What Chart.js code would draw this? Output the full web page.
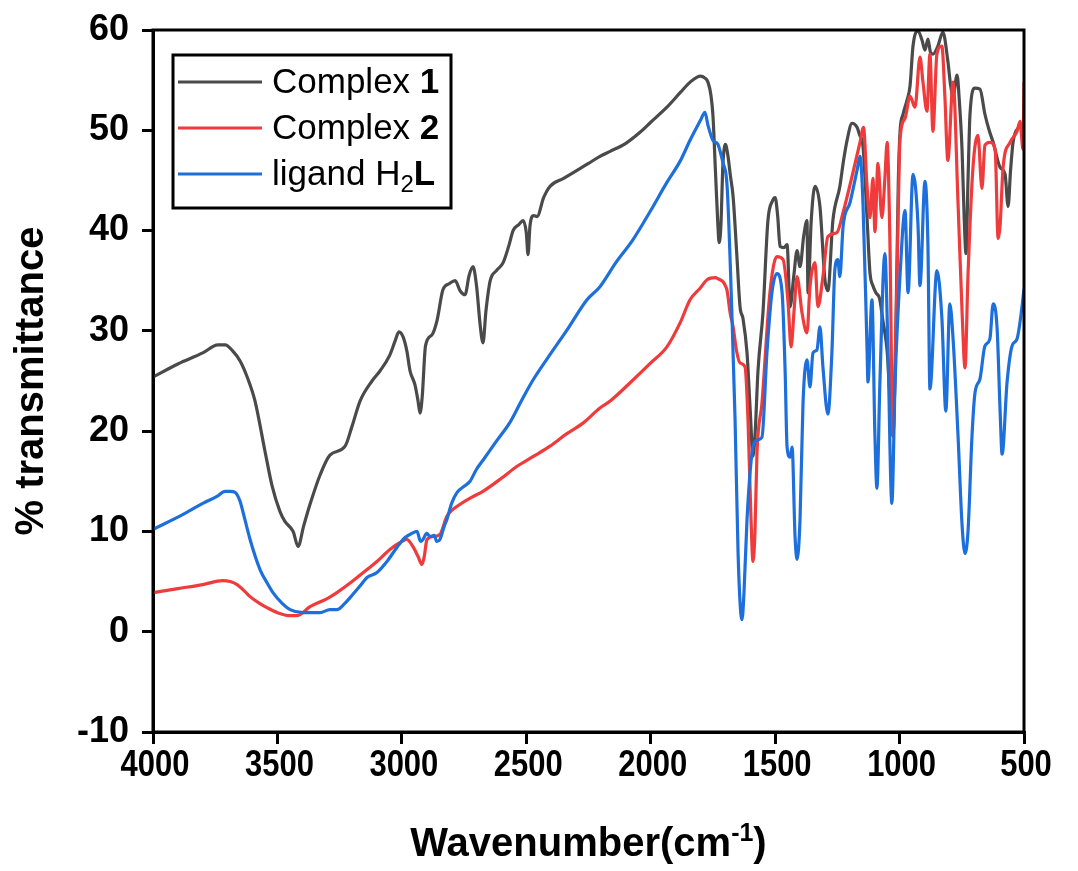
<!DOCTYPE html>
<html>
<head>
<meta charset="utf-8">
<title>FT-IR spectra</title>
<script src="https://cdn.jsdelivr.net/npm/chart.js@4.4.1/dist/chart.umd.min.js"></script>
<style>
html, body { margin:0; padding:0; background:#ffffff; }
canvas { display:block; }
</style>
</head>
<body>

<canvas id="irChart" width="1078" height="871"></canvas>

<script>

// ================= SPECTRA DATA =================
// wavenumber (cm-1) and % transmittance, high to low wavenumber


const complex1Wn = [
4000,3900,3800,3739,3710,3680,3650,3620,3590,3550,3522,3490,3470,3437,3417,3395,3369,3329,3289,3228,
3200,3168,3120,3088,3050,3027,3012,2995,2980,2967,2947,2935,2927,2918,2905,2879,2859,2835,2810,2786,
2766,2746,2730,2714,2700,2685,2674,2662,2645,2620,2593,2570,2553,2530,2513,2500,2493,2485,2470,2457,
2430,2405,2350,2296,2250,2204,2163,2100,2043,2000,1935,1880,1842,1800,1782,1770,1758,1750,1740,1730,
1725,1718,1710,1700,1690,1680,1669,1655,1641,1629,1613,1600,1589,1580,1569,1549,1529,1510,1500,1490,
1480,1465,1452,1440,1425,1412,1400,1385,1372,1368,1355,1340,1320,1300,1288,1268,1240,1225,1211,1191,
1171,1160,1147,1131,1119,1107,1095,1080,1067,1050,1040,1027,1015,1005,998,986,970,958,946,926,
910,898,886,876,866,846,826,806,795,785,769,760,749,740,733,725,717,697,677,657,
640,624,596,576,564,554,544,524,504,500
];

const complex1T = [
25.4,26.7,27.8,28.6,28.6,28.0,27.0,25.3,23.0,18.0,14.6,12.0,11.0,10.0,8.5,10.5,12.7,15.6,17.6,18.5,
20.5,23.0,25.0,26.0,27.5,29.0,29.9,29.4,28.0,26.0,24.6,23.0,21.8,23.5,28.5,29.6,31.0,34.1,34.7,35.0,
34.0,33.6,35.5,36.4,34.5,30.5,28.8,32.0,35.0,36.0,36.8,38.5,40.0,40.6,41.0,39.8,37.6,40.5,41.5,41.4,
43.3,44.4,45.2,46.0,46.7,47.4,47.9,48.7,49.8,50.8,52.3,53.8,54.8,55.4,55.2,54.8,53.5,51.5,46.0,40.5,
38.8,40.5,46.5,48.6,47.5,45.5,43.4,38.0,32.4,31.2,27.8,22.0,17.5,20.0,26.0,31.8,41.0,43.0,43.3,41.5,
38.4,38.3,38.6,32.4,35.5,38.0,36.4,39.5,41.0,33.8,41.0,44.4,42.4,35.1,34.0,41.0,44.4,47.0,49.0,50.7,
50.3,49.5,48.4,41.4,35.8,34.5,33.8,33.2,31.0,28.0,24.0,19.5,30.0,45.0,49.9,51.6,53.0,54.4,58.4,59.9,
59.0,58.0,59.1,57.8,57.6,58.4,59.8,56.9,54.5,53.4,55.5,53.0,48.1,41.0,37.7,45.0,51.6,54.2,54.1,51.6,
50.0,48.8,46.3,45.6,42.4,46.0,48.8,50.2,50.5,51.0
];


const complex2Wn = [
4000,3900,3800,3720,3690,3662,3630,3610,3570,3542,3500,3449,3420,3369,3300,3261,3200,3140,3100,3048,
3000,2980,2956,2935,2919,2910,2899,2870,2847,2819,2766,2720,2674,2600,2537,2470,2405,2340,2272,2204,
2163,2071,2000,1935,1880,1842,1800,1774,1740,1730,1710,1702,1693,1681,1669,1655,1641,1621,1609,1598,
1589,1581,1573,1553,1521,1493,1468,1448,1436,1424,1412,1392,1372,1360,1340,1328,1308,1288,1252,1227,
1191,1159,1145,1131,1119,1107,1099,1087,1071,1059,1050,1039,1027,1018,1010,998,978,958,938,918,
906,890,878,866,850,830,818,806,785,765,749,737,725,705,685,669,657,637,616,604,
596,584,556,528,516,504,500
];

const complex2T = [
3.9,4.3,4.7,5.1,5.0,4.7,4.0,3.5,2.8,2.4,1.9,1.6,1.6,2.5,3.3,3.9,5.0,6.2,7.0,8.2,
9.0,9.2,8.5,7.5,6.7,7.5,9.2,9.5,9.7,11.5,12.7,13.4,14.0,15.3,16.5,17.5,18.5,19.7,20.8,22.3,
23.0,25.1,26.8,28.4,30.9,33.1,34.3,35.1,35.3,35.2,34.9,34.6,34.0,31.8,30.4,28.0,26.8,26.4,21.1,12.0,
7.0,10.0,17.8,22.8,33.8,37.4,37.1,32.8,28.4,32.0,35.4,31.8,29.8,34.4,36.8,32.4,35.4,39.4,39.8,41.8,
45.4,48.8,50.3,44.5,41.3,45.2,39.9,46.7,41.3,45.2,48.8,39.2,19.5,26.0,35.6,49.2,51.2,53.4,52.3,57.3,
54.8,51.9,57.6,49.9,57.6,58.4,53.4,47.0,54.8,42.7,32.0,26.3,35.6,46.3,49.5,44.2,48.5,48.8,48.1,39.2,
40.5,46.3,48.8,49.9,50.9,48.1,54.8
];


const ligandWn = [
4000,3879,3800,3743,3710,3690,3670,3650,3638,3610,3570,3540,3518,3480,3449,3397,3329,3289,3261,3230,
3208,3170,3140,3100,3060,3020,2987,2960,2939,2925,2915,2900,2887,2870,2860,2847,2830,2819,2800,2778,
2750,2726,2700,2674,2620,2565,2520,2473,2400,2336,2256,2204,2140,2071,2000,1935,1880,1842,1800,1782,
1770,1750,1730,1720,1710,1693,1673,1661,1649,1640,1633,1625,1613,1593,1573,1553,1533,1513,1493,1472,
1460,1452,1440,1432,1420,1412,1400,1388,1372,1360,1348,1332,1320,1308,1288,1272,1260,1248,1240,1227,
1199,1171,1159,1147,1131,1127,1111,1099,1091,1079,1059,1047,1031,1018,998,978,966,946,926,918,
898,886,878,850,830,814,798,785,765,749,737,725,709,697,677,657,637,624,608,596,
588,568,548,528,508,500
];

const ligandT = [
10.2,11.7,12.8,13.5,14.0,14.0,13.9,13.0,11.9,9.2,6.2,4.8,3.9,2.8,2.2,1.9,1.9,2.2,2.2,2.8,
3.4,4.5,5.4,5.9,7.0,8.4,9.4,9.8,10.0,9.0,9.2,9.8,9.5,9.6,9.0,9.2,10.5,11.2,12.8,13.9,
14.5,15.0,16.2,17.1,19.0,20.9,23.0,25.1,27.8,30.1,33.1,34.4,36.8,39.1,42.0,44.8,47.0,49.0,51.0,51.8,
50.5,49.0,48.6,47.8,46.8,44.4,31.1,21.1,7.9,2.5,1.2,4.0,11.2,17.8,19.1,19.4,27.8,33.8,35.7,33.8,
26.1,18.4,17.4,18.4,9.5,7.2,11.2,22.8,27.1,24.4,27.8,28.1,30.4,26.4,21.7,27.8,36.1,37.1,35.4,40.4,
42.8,46.0,47.4,42.7,28.5,24.9,33.1,19.5,14.3,24.9,37.7,28.5,12.8,24.9,35.6,42.0,33.8,45.6,40.6,34.5,
44.9,38.5,24.2,36.0,31.3,22.0,32.7,29.2,19.5,10.7,7.8,10.0,19.5,23.8,25.2,28.5,29.2,32.7,30.2,22.0,
17.7,24.9,28.5,29.2,32.4,34.2
];


// axis ranges and tick steps
const xRange = [500, 4000];
const xStep = 500;

const yRange = [-10, 60];
const yStep = 10;


// ================= HELPERS =================


const FONT = "'Liberation Sans', Arial, Helvetica, sans-serif";

function toPoints(wn, t){

return wn.map((w, i) => ({ x:w, y:t[i] }));

}


// text drawn piece by piece so parts can be bold / sub / superscript
function drawRuns(ctx, runs, x, y){

let cx = x;

runs.forEach(r => {

ctx.font = r.font;
ctx.fillText(r.text, cx, y + (r.dy || 0));
cx += ctx.measureText(r.text).width;

});

return cx;

}


function runsWidth(ctx, runs){

let w = 0;

runs.forEach(r => {

ctx.font = r.font;
w += ctx.measureText(r.text).width;

});

return w;

}


// ================= LEGEND + FRAME + AXIS TEXT =================


const legendRows = [

{ color:"#4a4a4a", runs:[
{ text:"Complex ", font:"35px " + FONT },
{ text:"1", font:"bold 35px " + FONT }
]},

{ color:"#ef3b3b", runs:[
{ text:"Complex ", font:"35px " + FONT },
{ text:"2", font:"bold 35px " + FONT }
]},

{ color:"#1d6fdc", runs:[
{ text:"ligand H", font:"35px " + FONT },
{ text:"2", font:"24px " + FONT, dy:10 },
{ text:"L", font:"bold 35px " + FONT }
]}

];


const decorations = {

id:"decorations",

afterDraw(chart){

const ctx = chart.ctx;
const area = chart.chartArea;
const xScale = chart.scales.x;

ctx.save();

// box round the plot
ctx.strokeStyle = "#000000";
ctx.lineWidth = 3;
ctx.strokeRect(area.left, area.top, area.right - area.left, area.bottom - area.top);


// x tick labels, slightly narrow bold digits
ctx.fillStyle = "#000000";
ctx.font = "bold 36px " + FONT;
ctx.textAlign = "center";
ctx.textBaseline = "middle";

xScale.ticks.forEach(t => {

const px = xScale.getPixelForValue(t.value);

ctx.save();
ctx.translate(px + 2, area.bottom + 34);
ctx.scale(0.86, 1);
ctx.fillText(String(t.value), 0, 0);
ctx.restore();

});


// legend box
const boxX = area.left + 20;
const boxY = area.top + 25;
const boxW = 278;
const boxH = 153;

ctx.fillStyle = "#ffffff";
ctx.fillRect(boxX, boxY, boxW, boxH);
ctx.strokeRect(boxX, boxY, boxW, boxH);

ctx.textAlign = "left";

legendRows.forEach((row, i) => {

const rowY = boxY + 27 + i * 46;

ctx.strokeStyle = row.color;
ctx.lineWidth = 3;
ctx.beginPath();
ctx.moveTo(boxX + 5, rowY);
ctx.lineTo(boxX + 89, rowY);
ctx.stroke();

ctx.fillStyle = "#000000";
drawRuns(ctx, row.runs, boxX + 99, rowY + 1);

});


// x axis title with superscript
const title = [
{ text:"Wavenumber(cm", font:"bold 40px " + FONT },
{ text:"-1", font:"bold 25px " + FONT, dy:-15 },
{ text:")", font:"bold 40px " + FONT }
];

const tw = runsWidth(ctx, title);
const cx = (area.left + area.right) / 2;

ctx.fillStyle = "#000000";
ctx.textBaseline = "alphabetic";
drawRuns(ctx, title, cx - tw / 2, 856);

ctx.restore();

}

};


// ================= IR CHART =================


const irChart =
document.getElementById("irChart");


if(irChart){

new Chart(irChart, {

type:"line",

data:{

datasets:[

{
label:"Complex 1",
data:toPoints(complex1Wn, complex1T),
borderColor:"#4a4a4a",
order:3
},

{
label:"Complex 2",
data:toPoints(complex2Wn, complex2T),
borderColor:"#ef3b3b",
order:2
},

{
label:"ligand H2L",
data:toPoints(ligandWn, ligandT),
borderColor:"#1d6fdc",
order:1
}

]

},

options:{

responsive:false,
animation:false,

layout:{
padding:{ left:0, top:30, right:54, bottom:0 }
},

elements:{
point:{ radius:0 },
line:{ borderWidth:3.2, cubicInterpolationMode:"monotone", fill:false }
},

plugins:{
legend:{ display:false },
tooltip:{ enabled:false }
},

scales:{

x:{
type:"linear",
reverse:true,
min:xRange[0],
max:xRange[1],
afterFit(scale){
scale.height = 139;
scale.paddingLeft = 0;
scale.paddingRight = 0;
},
border:{ display:true, color:"#000000", width:3 },
grid:{ drawOnChartArea:false, drawTicks:true, tickLength:12, color:"#000000", lineWidth:3 },
ticks:{
stepSize:xStep,
color:"rgba(0,0,0,0)",
padding:6,
maxRotation:0,
font:{ family:FONT, size:36, weight:"bold" }
}
},

y:{
type:"linear",
min:yRange[0],
max:yRange[1],
afterFit(scale){
scale.width = 153;
scale.paddingTop = 0;
scale.paddingBottom = 0;
},
border:{ display:true, color:"#000000", width:3 },
grid:{ drawOnChartArea:false, drawTicks:true, tickLength:11, color:"#000000", lineWidth:3 },
ticks:{
stepSize:yStep,
color:"#000000",
padding:13,
font:{ family:FONT, size:36, weight:"bold" }
},
title:{
display:true,
text:"% transmittance",
color:"#000000",
padding:{ top:8, bottom:0 },
font:{ family:FONT, size:40, weight:"bold" }
}
}

}

},

plugins:[decorations]

});

}

</script>
</body>
</html>
